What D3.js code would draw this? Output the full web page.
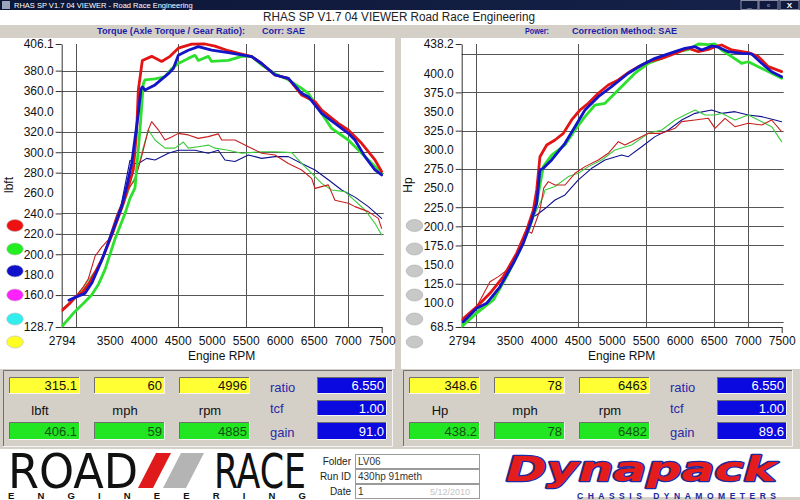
<!DOCTYPE html>
<html><head><meta charset="utf-8">
<script src="https://cdn.jsdelivr.net/npm/d3@7"></script>
<style>html,body{margin:0;padding:0;background:#d4d0c8;overflow:hidden}</style>
</head><body><svg id="c" width="800" height="500"></svg>
<script>
// ---------------- DATA ----------------
const rpmTicks = [2794,3500,4000,4500,5000,5500,6000,6500,7000,7500];
const rpmGrid = [3000,4500,5500,6500,7000];
const tqTicks = [406.1,380,360,340,320,300,280,260,240,220,200,180,160,128.7];
const tqDash = [406.1,380,360,320,300,280,240,220,200,160,128.7];
const tqGrid = [380,360,320,300,280,240,220,200,160];
const pwTicks = [438.2,400,375,350,325,300,275,250,225,200,175,150,125,100,68.5];
const pwDash = [438.2,375,325,275,225,200,175,125,68.5];
const pwGrid = [425,375,325,275,225,200,175,125,75];

// Torque (lbft) series: [rpm, value]
const tqRedThick = [[2800,145],[2900,151],[3000,158],[3100,163],[3200,172],[3300,184],[3400,197],[3550,222],[3700,250],[3800,272],[3847,283],[3897,322],[3921,361],[3980,390],[4117,394],[4264,389],[4387,394],[4509,402],[4705,406],[4901,406.1],[5048,404],[5244,399.5],[5441,396.3],[5588,393.7],[5735,387],[5931,375.7],[6127,372.4],[6323,356],[6519,349.6],[6617,341.4],[6862,328.3],[7008,321.8],[7205,308.7],[7401,292.4],[7500,281]];
const tqGreenThick = [[2794,129],[2900,137],[2990,144],[3100,151],[3235,160],[3331,170],[3431,185],[3578,215],[3725,240],[3800,255],[3872,265],[3945,322],[3994,367],[4019,371],[4166,372],[4313,374],[4411,382],[4509,387],[4656,392],[4754,395],[4803,390],[4950,394],[4999,389],[5244,390],[5441,394],[5588,394],[5735,385.5],[5931,377],[6127,371],[6323,362.6],[6421,357.7],[6617,338],[6764,323.4],[7008,312],[7205,299],[7401,286],[7499,279]];
const tqBlueThick = [[2900,155],[3000,158],[3137,161.7],[3235,171.5],[3382,194],[3529,220],[3676,247],[3749,266],[3823,289],[3921,338],[3960,362],[3980,364],[4019,361],[4166,366],[4362,377],[4436,382],[4509,395],[4656,400],[4803,403.5],[4999,400],[5244,397.6],[5588,393.7],[5735,387],[5931,375.7],[6127,372.4],[6323,357.7],[6421,354.5],[6617,338],[6813,328.3],[7008,318.5],[7107,312],[7254,295.7],[7401,282.6],[7499,277.7]];
const tqRedThin = [[2800,146],[2900,152],[2990,158],[3100,167],[3186,176],[3284,198],[3382,207],[3480,214],[3600,238],[3750,262],[3872,273],[3970,296],[4068,322],[4117,330],[4215,322],[4313,312],[4411,315],[4509,318.5],[4656,317],[4803,313.6],[4950,315.3],[5097,318],[5146,312],[5342,312],[5539,305.4],[5735,299],[5931,297.3],[6127,289],[6323,282.6],[6470,274.4],[6519,264.6],[6617,266.3],[6715,268],[6813,253],[7008,250],[7107,246.7],[7303,241.8],[7450,235.2],[7499,225.4]];
const tqGreenThin = [[2800,146],[2900,152],[3000,158],[3088,165],[3200,176],[3333,188],[3480,211],[3676,243],[3800,266],[3897,279],[3970,299],[4068,322],[4166,312],[4313,304],[4460,304],[4583,310],[4656,304],[4803,305.4],[4950,307],[5048,304],[5244,302],[5441,299],[5735,300.5],[5931,300.5],[6176,299.6],[6323,289],[6519,276],[6617,269.5],[6764,263],[6960,261.4],[7254,243.4],[7401,230.3],[7499,219]];
const tqBlueThin = [[2900,155],[3000,158],[3100,162],[3200,170],[3350,190],[3500,215],[3650,242],[3798,292],[3872,289],[3921,289],[4044,294],[4166,292.4],[4362,299],[4509,302],[4754,302],[4950,299],[5097,302],[5195,292.4],[5342,291],[5539,297.3],[5735,294],[5931,295.7],[6127,295.7],[6323,289],[6519,282.6],[6715,273],[6911,263],[7107,256],[7303,246.7],[7499,235.2]];

// Power (Hp) series: [rpm, value]
const pwRedThick = [[2794,77.6],[3014,95],[3210,112.5],[3406,134.3],[3602,164.7],[3749,195],[3847,221],[3897,247.5],[3945,291],[4044,306.3],[4166,312.8],[4289,321.5],[4411,339],[4534,352],[4656,360.7],[4803,373.8],[4950,384.7],[5097,391.2],[5244,400.8],[5392,408.6],[5539,415.1],[5735,419.5],[5931,426],[6127,432.6],[6274,428.2],[6421,431.2],[6519,434.7],[6617,436.9],[6764,430.4],[7008,426.9],[7156,421.7],[7303,408.6],[7499,402.1]];
const pwGreenThick = [[2794,69],[3014,86.5],[3259,103.8],[3455,134.3],[3651,169],[3798,199.6],[3897,230],[3994,278],[4117,293],[4313,306.3],[4460,326],[4607,343.3],[4754,358.5],[4901,360.7],[5048,373.8],[5195,386.8],[5342,400],[5539,413],[5735,419.5],[5931,428],[6127,431],[6274,438.2],[6421,437.5],[6519,438.2],[6617,430.4],[6764,421.7],[6911,413],[7008,415],[7156,408.6],[7352,400],[7499,393.4]];
const pwBlueThick = [[2818,75.5],[3014,93],[3161,99.4],[3357,121],[3553,151.7],[3700,177.8],[3823,208.3],[3896,230],[3945,273.6],[3994,275.8],[4117,286.7],[4313,308.5],[4460,330],[4607,352],[4803,369.4],[4999,382.5],[5244,400],[5441,410.8],[5637,419.5],[5833,425.2],[6078,432.6],[6225,434.7],[6323,430.4],[6470,435.6],[6568,434],[6715,428.2],[6911,426],[7058,425.2],[7205,413],[7352,402],[7499,395.5]];
const pwRedThin = [[2794,77.6],[3014,95],[3210,127.7],[3333,134.3],[3450,142],[3602,164.7],[3749,195],[3823,191],[3945,221],[4000,250],[4068,258.4],[4166,254],[4313,254],[4460,269.3],[4607,278],[4803,286.7],[4950,295.4],[5097,310.6],[5195,306.3],[5342,312.8],[5539,321.5],[5735,321.5],[5931,328],[6029,336.8],[6225,338.9],[6421,341.1],[6519,328],[6666,341.1],[6813,330.2],[7008,334.6],[7205,332.4],[7352,338.9],[7499,323.7]];
const pwGreenThin = [[2794,72],[3014,89],[3259,108],[3455,136],[3651,170],[3798,200],[3900,222],[3994,239],[4019,247.5],[4166,252],[4362,265],[4509,269.3],[4656,278],[4852,286.7],[5048,299.8],[5293,306.3],[5539,321.5],[5735,325.9],[5931,338.9],[6127,347.6],[6225,352],[6372,345.5],[6519,345.5],[6617,347.6],[6813,338.9],[7008,345.5],[7156,338.9],[7352,330.2],[7499,310.6]];
const pwBlueThin = [[2818,76],[3014,93],[3161,100],[3357,122],[3553,152],[3700,178],[3847,212.6],[3896,214.8],[4044,225],[4166,234.4],[4313,241],[4509,260.6],[4705,275.8],[4901,286.7],[5146,293.2],[5244,291],[5441,304],[5637,317.2],[5833,325.9],[6029,339],[6225,347.6],[6470,352],[6617,347.6],[6813,349.8],[7008,345.5],[7205,343.3],[7401,338.9],[7499,336.7]];

const legendColors = ['#ee1111','#22ee22','#1111cc','#ff22ff','#33eeee','#ffff22'];
const leftTop = ['315.1','60','4996'], leftBot = ['406.1','59','4885'], leftLbl = ['lbft','mph','rpm'], leftBlue = ['6.550','1.00','91.0'];
const rightTop = ['348.6','78','6463'], rightBot = ['438.2','78','6482'], rightLbl = ['Hp','mph','rpm'], rightBlue = ['6.550','1.00','89.6'];
const sideLbl = ['ratio','tcf','gain'];

// ---------------- DRAW ----------------
const F = "'Liberation Sans', Arial, sans-serif";
const svg = d3.select('#c');
const defs = svg.append('defs');
const grad = defs.append('linearGradient').attr('id','tb').attr('x1',0).attr('x2',1);
grad.append('stop').attr('offset','0').attr('stop-color','#0c1636');
grad.append('stop').attr('offset','1').attr('stop-color','#16224a');

svg.append('rect').attr('width',800).attr('height',500).attr('fill','#d4d0c8');
// window title bar
svg.append('rect').attr('x',0).attr('y',0).attr('width',800).attr('height',10).attr('fill','url(#tb)');
svg.append('rect').attr('x',2).attr('y',1).attr('width',8).attr('height',8).attr('fill','#9aa4b8');
svg.append('text').attr('x',14).attr('y',8).attr('font-family',F).attr('font-size',7.5).attr('fill','#fff')
  .text('RHAS SP V1.7 04  VIEWER  -  Road Race Engineering');
[[741,17,'_'],[759,19,'▫'],[780,19,'X']].forEach(([bx,bw,t])=>{
  svg.append('rect').attr('x',bx).attr('y',0.5).attr('width',bw).attr('height',9).attr('fill','#0f1a3e').attr('stroke','#aab').attr('stroke-width',0.8);
  svg.append('text').attr('x',bx+bw/2).attr('y',8).attr('text-anchor','middle').attr('font-family',F).attr('font-size',8).attr('font-weight','bold').attr('fill','#fff').text(t);
});
// white strip with caption
svg.append('rect').attr('x',0).attr('y',10).attr('width',800).attr('height',15).attr('fill','#fff');
svg.append('text').attr('x',263).attr('y',21).attr('font-family',F).attr('font-size',12).attr('fill','#222')
  .attr('textLength',272).attr('lengthAdjust','spacingAndGlyphs').text('RHAS SP V1.7 04  VIEWER   Road Race Engineering');
// gray header band
svg.append('rect').attr('x',0).attr('y',25).attr('width',800).attr('height',13).attr('fill','#d4d0c8');
function hdr(x,w,t){ svg.append('text').attr('x',x).attr('y',34).attr('font-family',F).attr('font-size',9.5).attr('font-weight','bold')
  .attr('fill','#1c1ca8').attr('textLength',w).attr('lengthAdjust','spacingAndGlyphs').text(t); }
hdr(97,148,'Torque (Axle Torque / Gear Ratio):'); hdr(262,43,'Corr: SAE');
hdr(525,24,'Power:'); hdr(572,105,'Correction Method: SAE');

// chart panels
svg.append('rect').attr('x',0).attr('y',38).attr('width',395).attr('height',331).attr('fill','#fff');
svg.append('rect').attr('x',401).attr('y',38).attr('width',399).attr('height',331).attr('fill','#fff');

const xL = d3.scaleLinear().domain([2794,7500]).range([61.7,381.7]);
const xR = d3.scaleLinear().domain([2794,7500]).range([461.7,781.7]);
const yT = d3.scaleLinear().domain([128.7,406.1]).range([327,44]);
const yP = d3.scaleLinear().domain([68.5,438.2]).range([327,44]);

function chart(id, x, y, ticks, dash, grid, series, yLabel, lx, legend) {
  const g = svg.append('g');
  const [x0,x1] = x.range(); const [yb,yt] = y.range();
  g.selectAll('line.hg').data(grid).join('line').attr('class','hg')
    .attr('x1',x0).attr('x2',x1+2).attr('y1',d=>Math.round(y(d))+0.5).attr('y2',d=>Math.round(y(d))+0.5)
    .attr('stroke','#555').attr('stroke-width',1);
  g.selectAll('line.vg').data(rpmGrid).join('line').attr('class','vg')
    .attr('x1',d=>Math.round(x(d))+0.5).attr('x2',d=>Math.round(x(d))+0.5).attr('y1',yt).attr('y2',yb+1)
    .attr('stroke','#555').attr('stroke-width',1);
  const ya = d3.axisLeft(y).tickValues(ticks).tickSize(6).tickSizeOuter(0).tickPadding(2).tickFormat(d=>d.toFixed(1));
  const yg = g.append('g').attr('transform',`translate(${x0},0)`).call(ya);
  yg.selectAll('.tick').filter(d=>!dash.includes(d)).select('line').remove();
  yg.selectAll('text').attr('font-family',F).attr('font-size',12).attr('fill','#111');
  yg.selectAll('line,path').attr('stroke','#333');
  const xa = d3.axisBottom(x).tickValues(rpmTicks).tickSize(6).tickSizeOuter(0).tickPadding(3).tickFormat(d3.format('d'));
  const xg = g.append('g').attr('transform',`translate(0,${yb})`).call(xa);
  xg.selectAll('.tick').filter(d=>d!==7500).select('line').remove();
  xg.selectAll('text').attr('font-family',F).attr('font-size',12).attr('fill','#111');
  xg.selectAll('line,path').attr('stroke','#333');
  // axis titles
  g.append('text').attr('transform',`translate(${lx},185) rotate(-90)`).attr('text-anchor','middle')
    .attr('font-family',F).attr('font-size',12).attr('fill','#111').text(yLabel);
  g.append('text').attr('x',(x0+x1)/2).attr('y',360).attr('text-anchor','middle')
    .attr('font-family',F).attr('font-size',12).attr('fill','#111').text('Engine RPM');
  // series
  const cp = defs.append('clipPath').attr('id','cp'+id);
  cp.append('rect').attr('x',x0).attr('y',yt-3).attr('width',x1-x0+3).attr('height',yb-yt+3);
  const line = d3.line().x(d=>x(d[0])).y(d=>y(d[1]));
  const sg = g.append('g').attr('clip-path',`url(#cp${id})`);
  series.forEach(s=>{
    sg.append('path').attr('d',line(s.data)).attr('fill','none').attr('stroke',s.color)
      .attr('stroke-width',s.w).attr('stroke-linejoin','round').attr('stroke-linecap','round');
  });
  // legend ellipses
  const ly = [225.5,249,271,295,319,342];
  legend.forEach((c,i)=>{
    g.append('ellipse').attr('cx',lx+2.5).attr('cy',ly[i]).attr('rx',8.3).attr('ry',6)
      .attr('fill',c).attr('stroke',c==='#c8c8c8'?'#a8a8a8':'#bbb').attr('stroke-width',0.6);
  });
}
const thin = 1.1, thick = 2.8;
chart('L', xL, yT, tqTicks, tqDash, tqGrid, [
  {data:tqBlueThin,color:'#101090',w:thin},{data:tqGreenThin,color:'#3ccc3c',w:thin},{data:tqRedThin,color:'#c81e1e',w:thin},
  {data:tqGreenThick,color:'#2ee02e',w:thick},{data:tqRedThick,color:'#e31414',w:thick},{data:tqBlueThick,color:'#1414c8',w:thick}
], 'lbft', 12.5, legendColors);
chart('R', xR, yP, pwTicks, pwDash, pwGrid, [
  {data:pwBlueThin,color:'#101090',w:thin},{data:pwGreenThin,color:'#3ccc3c',w:thin},{data:pwRedThin,color:'#c81e1e',w:thin},
  {data:pwGreenThick,color:'#2ee02e',w:thick},{data:pwRedThick,color:'#e31414',w:thick},{data:pwBlueThick,color:'#1414c8',w:thick}
], 'Hp', 412, d3.range(6).map(()=>'#c8c8c8'));

// bottom info panels
function sunken(x,y,w,h,fill){
  svg.append('rect').attr('x',x).attr('y',y).attr('width',w).attr('height',h).attr('fill',fill);
  svg.append('path').attr('d',`M${x+0.5},${y+h}V${y+0.5}H${x+w}`).attr('stroke','#707070').attr('fill','none');
  svg.append('path').attr('d',`M${x+w-0.5},${y}V${y+h-0.5}H${x}`).attr('stroke','#f4f4f4').attr('fill','none');
}
function panel(ox, top, bot, lbl, blue){
  sunken(ox+3,370,390,77,'#d4d0c8');
  const bx = [9,94,179];
  bx.forEach((b,i)=>{
    sunken(ox+b,377,71,17,'#ffff33');
    svg.append('text').attr('x',ox+b+68).attr('y',390).attr('text-anchor','end').attr('font-family',F).attr('font-size',13).attr('fill','#111').text(top[i]);
    sunken(ox+b,422,71,18,'#22e622');
    svg.append('text').attr('x',ox+b+68).attr('y',436).attr('text-anchor','end').attr('font-family',F).attr('font-size',13).attr('fill','#145014').text(bot[i]);
    svg.append('text').attr('x',ox+b+31).attr('y',415).attr('text-anchor','middle').attr('font-family',F).attr('font-size',13).attr('fill','#111').text(lbl[i]);
  });
  const byy = [[377,17,390],[400,16,413],[422,18,436]];
  byy.forEach(([yy,hh,tb],i)=>{
    sunken(ox+317,yy,70,hh,'#0a0ae0');
    svg.append('text').attr('x',ox+384).attr('y',tb).attr('text-anchor','end').attr('font-family',F).attr('font-size',13).attr('fill','#fff').text(blue[i]);
    svg.append('text').attr('x',ox+270).attr('y',[392,413,437][i]).attr('font-family',F).attr('font-size',13).attr('fill','#2a2aa6').text(sideLbl[i]);
  });
}
panel(0, leftTop, leftBot, leftLbl, leftBlue);
panel(400, rightTop, rightBot, rightLbl, rightBlue);

// logo band
svg.append('rect').attr('x',0).attr('y',449).attr('width',800).attr('height',51).attr('fill','#fff');
svg.append('rect').attr('x',577).attr('y',497).attr('width',223).attr('height',3).attr('fill','#d4d0c8');
const NF = "'Liberation Sans Narrow','DejaVu Sans Condensed','Liberation Sans',sans-serif";
svg.append('text').attr('x',8).attr('y',488).attr('font-family',NF).attr('font-size',48).attr('fill','#111')
  .attr('textLength',130).attr('lengthAdjust','spacingAndGlyphs').text('ROAD');
svg.append('polygon').attr('points','138,488 156,453 171,453 153,488').attr('fill','#e01a1a');
svg.append('polygon').attr('points','163,488 181,453 204,453 186,488').attr('fill','#b4b4b4');
svg.append('text').attr('x',214).attr('y',488).attr('font-family',NF).attr('font-size',48).attr('fill','#111')
  .attr('textLength',92).attr('lengthAdjust','spacingAndGlyphs').text('RACE');
svg.append('text').attr('x',8).attr('y',498.5).attr('font-family',F).attr('font-size',9.5).attr('font-weight','bold').attr('fill','#111')
  .attr('textLength',298).attr('lengthAdjust','spacing').text('ENGINEERING');
[['Folder',465,454,'LV06'],['Run ID',480,469,'430hp 91meth'],['Date',495,484,'1']].forEach(([l,ty,by,v])=>{
  svg.append('text').attr('x',351).attr('y',ty).attr('text-anchor','end').attr('font-family',F).attr('font-size',10).attr('fill','#222').text(l);
  svg.append('rect').attr('x',355.5).attr('y',by+0.5).attr('width',124).attr('height',14).attr('fill','#fff').attr('stroke','#9a9a9a');
  svg.append('text').attr('x',358).attr('y',ty).attr('font-family',F).attr('font-size',10).attr('fill','#333').text(v);
});
svg.append('text').attr('x',470).attr('y',495).attr('text-anchor','end').attr('font-family',F).attr('font-size',9).attr('fill','#c4c4c4').text('5/12/2010');
// Dynapack logo (red letters with blue outline)
const DF = "'DejaVu Sans','Liberation Sans',sans-serif";
svg.append('text').attr('x',506).attr('y',481).attr('font-family',DF).attr('font-size',33).attr('font-weight','bold').attr('font-style','italic')
  .attr('fill','#e41c1c').attr('stroke','#1a2aa0').attr('stroke-width',2.4).attr('paint-order','stroke').attr('stroke-linejoin','round')
  .attr('textLength',270).attr('lengthAdjust','spacingAndGlyphs').text('Dynapack');
svg.append('text').attr('x',577).attr('y',499).attr('font-family',F).attr('font-size',8.5).attr('font-weight','bold').attr('fill','#1a2aa0')
  .attr('textLength',199).attr('lengthAdjust','spacing').text('CHASSIS    DYNAMOMETERS');
</script></body></html>
